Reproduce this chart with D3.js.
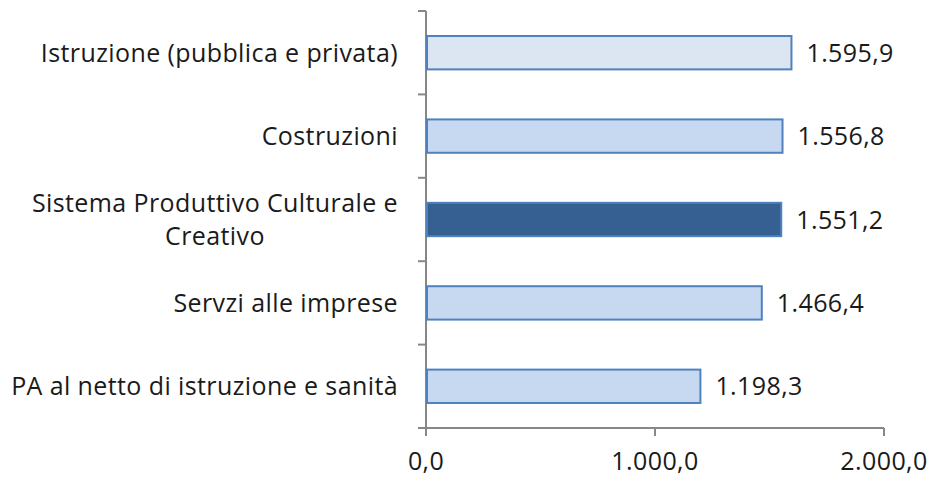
<!DOCTYPE html>
<html>
<head>
<meta charset="utf-8">
<script src="https://cdn.jsdelivr.net/npm/d3@7"></script>
<style>
  body { margin: 0; background: #fff; }
  text { font-family: "Open Sans", "Liberation Sans", sans-serif; fill: #1a1a1a; letter-spacing: 0.4px; }
</style>
</head>
<body>
<div id="chart"></div>
<script>
// data
var categories = ["Istruzione (pubblica e privata)", "Costruzioni", "Sistema Produttivo Culturale e|Creativo", "Servzi alle imprese", "PA al netto di istruzione e sanità"];
var values = [1595.9, 1556.8, 1551.2, 1466.4, 1198.3];
var fills = ["#dce6f2", "#c6d9f1", "#376092", "#c6d9f1", "#c6d9f1"];
var xTicks = [0, 1000, 2000];

var W = 932, H = 478;
var margin = {top: 11, right: 48, bottom: 50, left: 426},
    width = W - margin.left - margin.right,
    height = H - margin.top - margin.bottom;

var svg = d3.select("#chart")
  .append("svg")
    .attr("width", W)
    .attr("height", H)
  .append("g")
    .attr("transform", "translate(" + margin.left + "," + margin.top + ")");

// italian number format: 1.595,9
var fmt = function(v) {
  return d3.format(",.1f")(v).replace(/,/g, "#").replace(".", ",").replace(/#/g, ".");
};

var x = d3.scaleLinear().domain([0, 2000]).range([0, 458]);
var y = d3.scaleBand().domain(d3.range(categories.length)).range([0, height]).paddingInner(0.6).paddingOuter(0.3);

// y-axis ticks between categories
var step = height / categories.length;
var axisCol = "#878787";
svg.append("line")
  .attr("x1", 0).attr("x2", 0).attr("y1", 0).attr("y2", height)
  .attr("stroke", axisCol).attr("stroke-width", 2);
d3.range(categories.length + 1).forEach(function(i) {
  svg.append("line")
    .attr("x1", -8).attr("x2", 0).attr("y1", i * step).attr("y2", i * step)
    .attr("stroke", axisCol).attr("stroke-width", 2);
});

// x-axis
svg.append("line")
  .attr("x1", 0).attr("x2", x(2000)).attr("y1", height).attr("y2", height)
  .attr("stroke", axisCol).attr("stroke-width", 2);
xTicks.forEach(function(t) {
  svg.append("line")
    .attr("x1", x(t)).attr("x2", x(t)).attr("y1", height).attr("y2", height + 8)
    .attr("stroke", axisCol).attr("stroke-width", 2);
  svg.append("text")
    .attr("x", x(t)).attr("y", height + 42)
    .attr("text-anchor", "middle")
    .style("font-size", "25px")
    .text(fmt(t));
});

// bars
svg.selectAll("rect.bar")
  .data(values)
  .enter().append("rect")
    .attr("class", "bar")
    .attr("x", 1)
    .attr("y", function(d, i) { return y(i); })
    .attr("width", function(d) { return x(d) - 1; })
    .attr("height", y.bandwidth())
    .attr("fill", function(d, i) { return fills[i]; })
    .attr("stroke", "#4f81bd")
    .attr("stroke-width", 2);

// value labels
svg.selectAll("text.val")
  .data(values)
  .enter().append("text")
    .attr("class", "val")
    .attr("x", function(d) { return x(d) + 15; })
    .attr("y", function(d, i) { return y(i) + y.bandwidth() / 2; })
    .attr("dy", "0.36em")
    .style("font-size", "25px")
    .text(fmt);

// category labels (multi-line ones centred under the first line)
categories.forEach(function(c, i) {
  var lines = c.split("|");
  var cy = y(i) + y.bandwidth() / 2;
  var t = svg.append("text")
    .attr("y", cy - (lines.length - 1) * 16.5)
    .attr("text-anchor", "middle")
    .style("font-size", "25px");
  lines.forEach(function(l, j) {
    t.append("tspan").attr("x", 0).attr("dy", j == 0 ? "0.36em" : "33px").text(l);
  });
  var w = t.select("tspan").node().getComputedTextLength();
  t.selectAll("tspan").attr("x", -28 - w / 2);
});
</script>
</body>
</html>
